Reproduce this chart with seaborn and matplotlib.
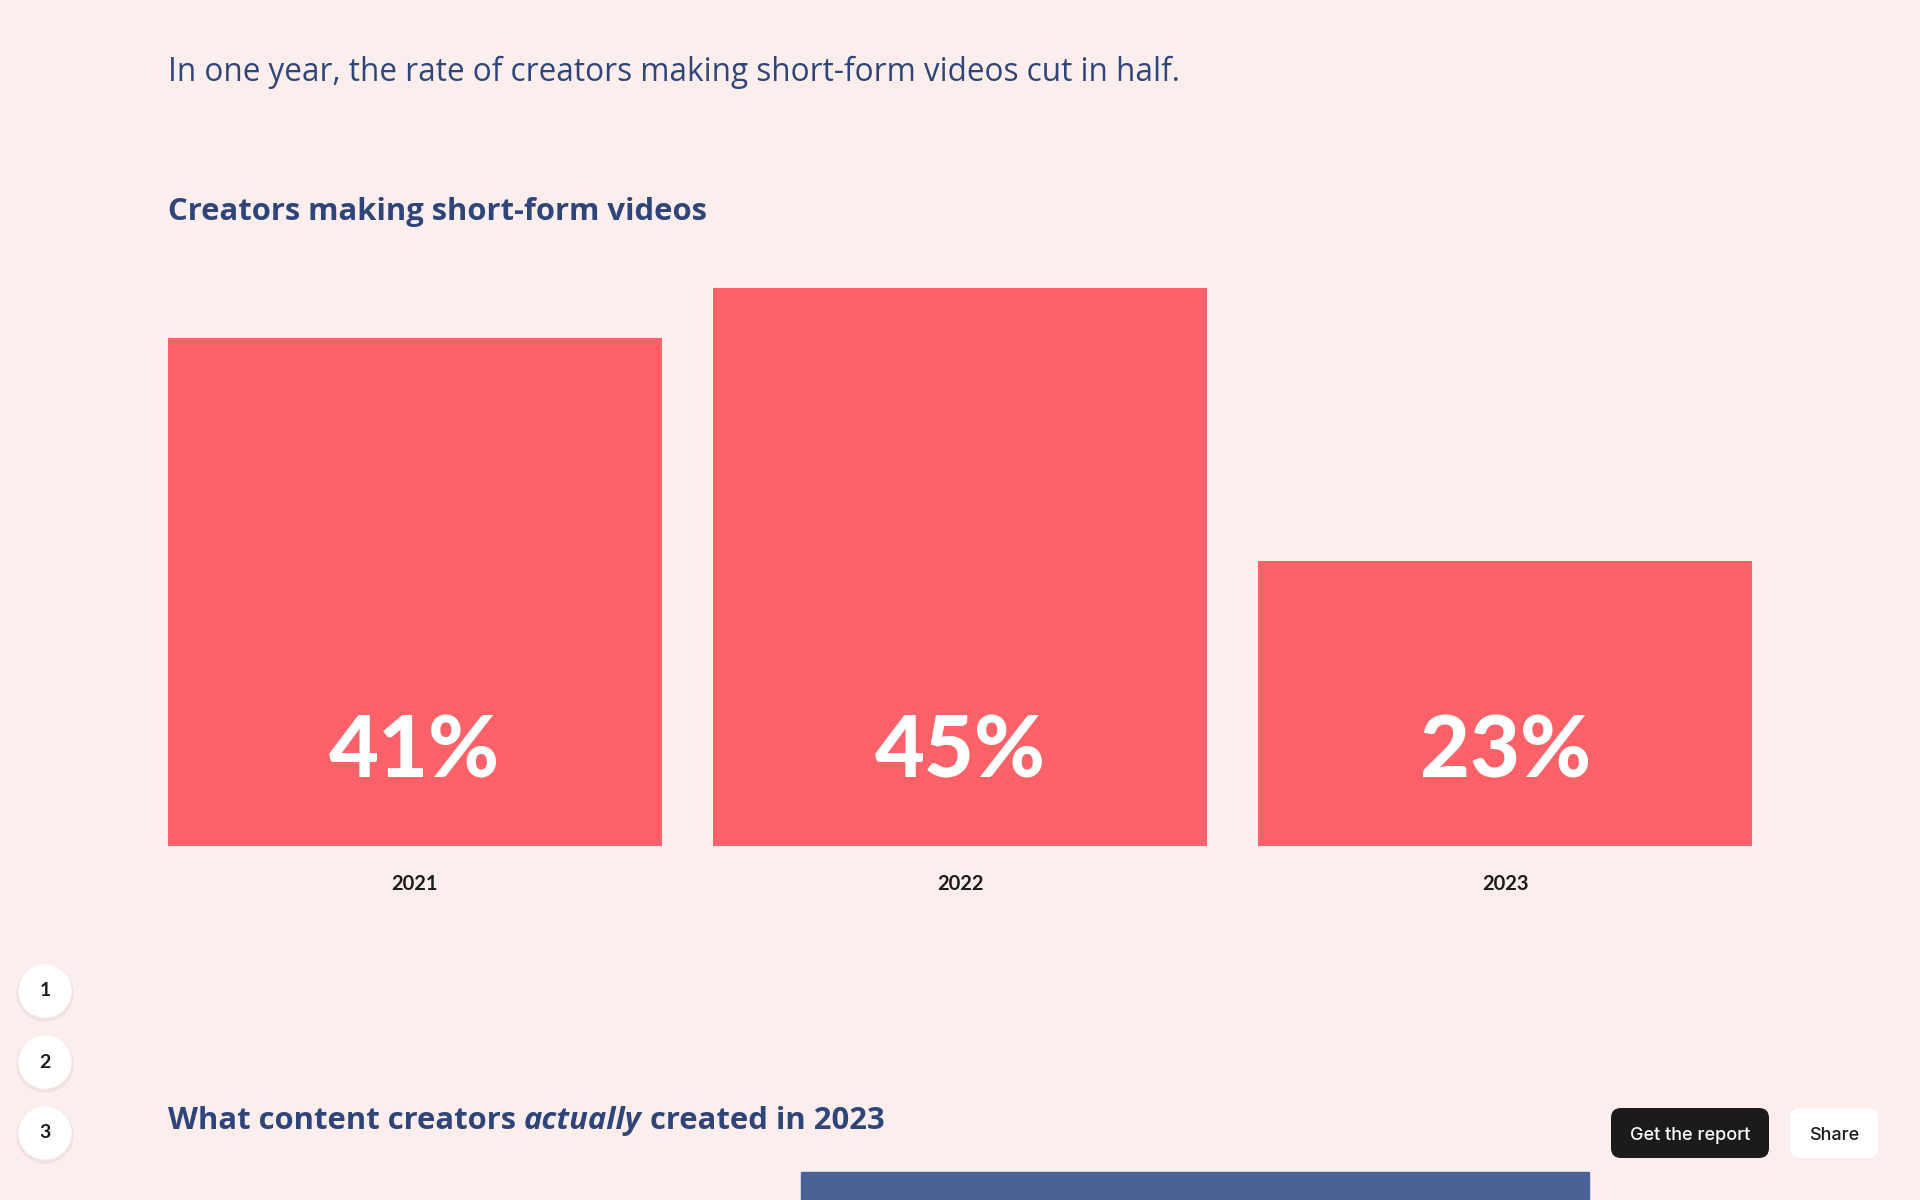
import matplotlib
matplotlib.use("Agg")
import matplotlib.pyplot as plt
from matplotlib.patches import Circle, FancyBboxPatch, Rectangle
import seaborn as sns
import pandas as pd

# Data
years = ["2021", "2022", "2023"]
share_short_form = [41, 45, 23]
value_labels = ["41%", "45%", "23%"]
nav_steps = ["1", "2", "3"]

# Styling
BG = "#fdeeee"
CORAL = "#fd6268"
NAVY = "#2f4479"
INK = "#1c1c1c"
TEXT_FONT = ["Open Sans", "DejaVu Sans"]

sns.set_theme(style="white")
plt.rcParams["font.family"] = ["Lato", "DejaVu Sans"]

W, H = 1920, 1200
fig = plt.figure(figsize=(W / 100, H / 100), dpi=100, facecolor=BG)

# Page layer in pixel coordinates for headings and controls
page = fig.add_axes([0, 0, 1, 1], zorder=0)
page.set_xlim(0, W)
page.set_ylim(H, 0)
page.axis("off")
page.set_facecolor(BG)

page.text(168, 72, "In one year, the rate of creators making short-form videos cut in half.",
          fontsize=22.7, color=NAVY, va="center", ha="left", family=TEXT_FONT)
page.text(168, 212, "Creators making short-form videos",
          fontsize=22.3, color=NAVY, fontweight="bold", va="center", ha="left",
          family=TEXT_FONT)

# Bar chart
df = pd.DataFrame({"year": years, "share": share_short_form})
ax = fig.add_axes([168 / W, 1 - 846 / H, (1752 - 168) / W, 620 / H], zorder=2)
ax.patch.set_alpha(0)
sns.barplot(data=df, x="year", y="share", color=CORAL, saturation=1,
            width=0.906, linewidth=0, ax=ax)
ax.set_xlim(-0.453, 2.453)
ax.set_ylim(0, 50)
sns.despine(ax=ax, left=True, bottom=True)
ax.set_yticks([])
ax.set_xlabel("")
ax.set_ylabel("")
ax.tick_params(axis="x", length=0, pad=20)
for lbl in ax.get_xticklabels():
    lbl.set_fontsize(14.5)
    lbl.set_fontweight("bold")
    lbl.set_color(INK)

# Value labels sit near the base of each bar
trans = matplotlib.transforms.blended_transform_factory(ax.transData, ax.transAxes)
for i, lab in enumerate(value_labels):
    ax.text(i, 0.15, lab, transform=trans, ha="center", va="center",
            fontsize=62, fontweight="black", color="white")

# Step navigation circles
for y, step in zip([991, 1062, 1133], nav_steps):
    page.add_patch(Circle((45, y + 2), 28, color="#ecdada", alpha=0.5, zorder=1))
    page.add_patch(Circle((45, y), 26, color="white", zorder=2))
    page.text(45, y, step, ha="center", va="center", fontsize=14,
              fontweight="bold", color=INK, zorder=3)

# Next section heading with an italic word
t1 = page.text(168, 1121, "What content creators ", fontsize=22.3, color=NAVY,
               fontweight="bold", va="center", ha="left", family=TEXT_FONT)
t2 = page.annotate("actually", xy=(1, 0), xycoords=t1, fontsize=22.3, color=NAVY,
                   fontweight="bold", fontstyle="italic", va="bottom", ha="left",
                   family=TEXT_FONT)
page.annotate(" created in 2023", xy=(1, 0), xycoords=t2, fontsize=22.3, color=NAVY,
              fontweight="bold", va="bottom", ha="left", family=TEXT_FONT)

# Top edge of the next chart's first bar
page.add_patch(Rectangle((801, 1172), 788, 40, color="#4a6296", zorder=1))

# Buttons
page.add_patch(FancyBboxPatch((1611, 1108), 158, 50,
                              boxstyle="round,pad=0,rounding_size=10",
                              facecolor="#1b1b1b", edgecolor="none", zorder=3))
page.text(1690, 1135, "Get the report", ha="center", va="center", fontsize=13,
          color="white", fontweight="medium", family=["Inter", "DejaVu Sans"], zorder=4)
page.add_patch(FancyBboxPatch((1790, 1108), 88, 50,
                              boxstyle="round,pad=0,rounding_size=10",
                              facecolor="white", edgecolor="none", zorder=3))
page.text(1834, 1135, "Share", ha="center", va="center", fontsize=13,
          color=INK, fontweight="medium", family=["Inter", "DejaVu Sans"], zorder=4)

fig.savefig("out.png", dpi=100, facecolor=BG)
